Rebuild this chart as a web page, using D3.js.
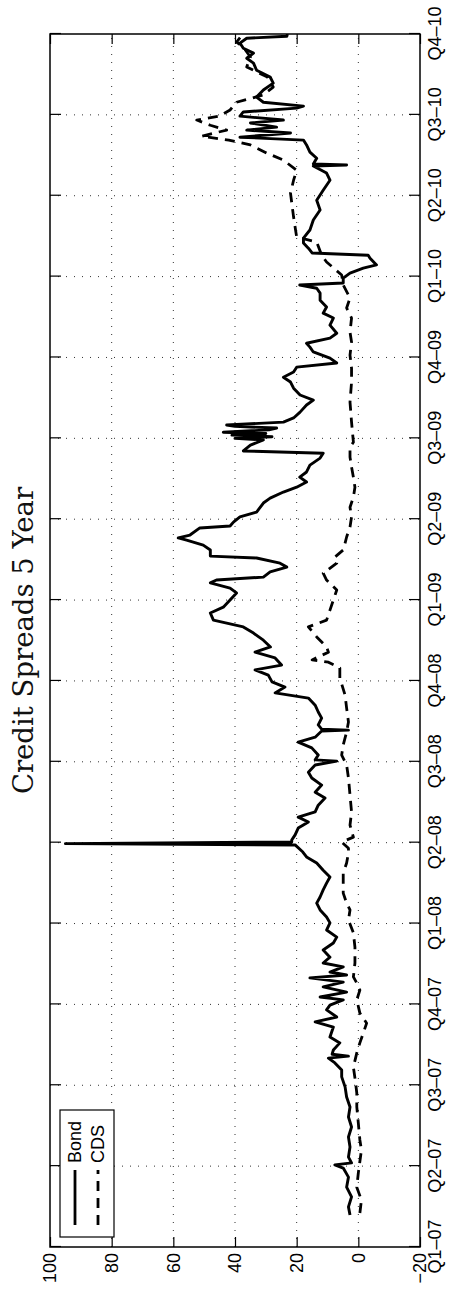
<!DOCTYPE html>
<html><head><meta charset="utf-8">
<script src="https://cdn.jsdelivr.net/npm/d3@7"></script>
<style>body{margin:0;background:#fff}svg{display:block}</style>
</head><body>
<div id="chart"></div>
<script>
// ---- data (time in decimal years) ----
const quarterTicks = [2007,2007.25,2007.5,2007.75,2008,2008.25,2008.5,2008.75,2009,2009.25,2009.5,2009.75,2010,2010.25,2010.5,2010.75];
const quarterLabels = ["Q1\u201307","Q2\u201307","Q3\u201307","Q4\u201307","Q1\u201308","Q2\u201308","Q3\u201308","Q4\u201308","Q1\u201309","Q2\u201309","Q3\u201309","Q4\u201309","Q1\u201310","Q2\u201310","Q3\u201310","Q4\u201310"];
const valueTicks = [-20,0,20,40,60,80,100];
const valueLabels = ["\u221220","0","20","40","60","80","100"];
const seriesNames = ["Bond","CDS"];

const bond = [[2007.099,2.7],[2007.124,3.2],[2007.155,2.2],[2007.185,3.8],[2007.216,3.2],[2007.244,4.9],[2007.254,7.6],[2007.260,2.2],[2007.278,3.2],[2007.309,2.7],[2007.340,3.2],[2007.371,2.2],[2007.402,3.2],[2007.433,2.7],[2007.464,3.8],[2007.495,4.3],[2007.526,5.4],[2007.547,5.4],[2007.569,7.6],[2007.584,9.7],[2007.590,3.2],[2007.596,8.5],[2007.609,8.1],[2007.631,6],[2007.649,9.2],[2007.680,8.1],[2007.696,14],[2007.711,7],[2007.733,10.3],[2007.748,9.2],[2007.764,4.9],[2007.773,12.4],[2007.788,3.8],[2007.804,11.4],[2007.819,4.9],[2007.832,15.7],[2007.841,3.8],[2007.850,9.2],[2007.866,4.9],[2007.878,11.4],[2007.896,9.2],[2007.918,11.4],[2007.940,8.1],[2007.958,7],[2007.980,10.3],[2008.002,9.2],[2008.020,10.3],[2008.042,12.4],[2008.063,13.5],[2008.082,12.4],[2008.104,11.4],[2008.125,10.3],[2008.144,9.2],[2008.165,11.4],[2008.187,13.5],[2008.206,16.8],[2008.221,18],[2008.243,20.5],[2008.247,95],[2008.252,21.6],[2008.258,21.6],[2008.274,20.5],[2008.295,19.5],[2008.314,16.2],[2008.329,19.5],[2008.345,14],[2008.366,13],[2008.388,10.8],[2008.406,14],[2008.428,11.9],[2008.450,15.1],[2008.468,16.2],[2008.490,14],[2008.502,7],[2008.506,14],[2008.521,13],[2008.543,15.1],[2008.561,19.5],[2008.576,14],[2008.595,11.9],[2008.598,3.2],[2008.601,11.9],[2008.614,13],[2008.635,11.9],[2008.654,13],[2008.675,14],[2008.697,16.2],[2008.713,27],[2008.731,23.8],[2008.747,28],[2008.768,29.2],[2008.784,33.5],[2008.799,24.9],[2008.821,27],[2008.839,33.5],[2008.855,28.5],[2008.876,30.8],[2008.898,34],[2008.917,37.3],[2008.938,47],[2008.960,48],[2008.978,43.8],[2009.000,41.6],[2009.022,39.5],[2009.037,41.6],[2009.053,48],[2009.062,46],[2009.071,30.8],[2009.087,28.6],[2009.102,23.2],[2009.114,25.4],[2009.130,33],[2009.136,48],[2009.155,48],[2009.170,50.3],[2009.185,55.7],[2009.192,58.4],[2009.201,54.6],[2009.223,51.4],[2009.229,41.6],[2009.241,40.5],[2009.257,38.4],[2009.272,33],[2009.300,30.8],[2009.315,28.6],[2009.334,24.3],[2009.349,20],[2009.365,16.8],[2009.380,19],[2009.396,16.8],[2009.417,15.7],[2009.439,12.4],[2009.454,11.4],[2009.461,37.3],[2009.479,35],[2009.495,30.8],[2009.500,40],[2009.505,28],[2009.510,41],[2009.515,30],[2009.519,43.8],[2009.526,29],[2009.532,26.5],[2009.537,40],[2009.541,42.7],[2009.550,24.3],[2009.563,21],[2009.581,18.9],[2009.603,16.8],[2009.618,14.6],[2009.634,18.9],[2009.655,21],[2009.674,22],[2009.689,24.3],[2009.705,21],[2009.720,20],[2009.733,7],[2009.748,9.2],[2009.767,14.6],[2009.782,15.7],[2009.794,16.8],[2009.810,9.2],[2009.825,7],[2009.850,9.2],[2009.872,8.1],[2009.887,11.4],[2009.906,10.3],[2009.927,12.4],[2009.949,12.4],[2009.964,13.5],[2009.974,19],[2009.980,4.9],[2009.995,4.9],[2010.011,2.7],[2010.026,-1.6],[2010.036,-5.9],[2010.057,-3.8],[2010.066,-3.2],[2010.073,15],[2010.088,16.2],[2010.104,17.8],[2010.119,17.8],[2010.144,15.7],[2010.175,14.6],[2010.206,12.4],[2010.236,13.5],[2010.267,11.4],[2010.298,9.2],[2010.320,10.3],[2010.342,14.6],[2010.345,3.8],[2010.348,14.6],[2010.366,13.5],[2010.385,15.7],[2010.407,16.8],[2010.422,17.8],[2010.431,38.4],[2010.444,22],[2010.453,36.2],[2010.462,26.5],[2010.475,35],[2010.484,24.3],[2010.496,38.4],[2010.509,37.3],[2010.521,20],[2010.527,17.8],[2010.539,30.8],[2010.555,33],[2010.577,30.8],[2010.598,27.6],[2010.617,28.6],[2010.638,33],[2010.660,34],[2010.675,36.2],[2010.691,34],[2010.706,37.3],[2010.722,38.4],[2010.737,36.2],[2010.743,23.2],[2010.750,23]];

const cds = [[2007.105,-0.5],[2007.145,-1],[2007.185,0.5],[2007.229,0],[2007.300,-1],[2007.331,-0.5],[2007.383,0],[2007.433,0.5],[2007.476,0.5],[2007.516,1],[2007.556,1.6],[2007.600,0.5],[2007.631,-0.5],[2007.692,-2.7],[2007.723,-0.5],[2007.764,0.5],[2007.794,-0.5],[2007.816,0.5],[2007.835,1.6],[2007.878,1.1],[2007.927,1.1],[2007.971,1.6],[2008.011,3.2],[2008.042,2.7],[2008.063,3.8],[2008.094,4.9],[2008.125,4.9],[2008.156,4.9],[2008.187,3.8],[2008.218,3.2],[2008.233,3.2],[2008.252,5.4],[2008.267,1.6],[2008.304,2.7],[2008.345,2.2],[2008.397,2.7],[2008.450,3.2],[2008.490,3.8],[2008.521,5.4],[2008.552,4.9],[2008.592,3.8],[2008.623,3.2],[2008.666,3.8],[2008.706,4.3],[2008.759,6],[2008.790,6],[2008.808,9.7],[2008.815,15],[2008.839,9.7],[2008.855,10.3],[2008.886,13.5],[2008.917,16.2],[2008.938,10.3],[2008.969,9.2],[2009.000,8.1],[2009.031,7],[2009.062,10.3],[2009.083,11.4],[2009.114,7],[2009.133,7.6],[2009.155,4.9],[2009.176,4.3],[2009.195,3.8],[2009.226,2.7],[2009.257,2.2],[2009.287,2.7],[2009.318,1.6],[2009.349,1.1],[2009.380,1.6],[2009.411,2.2],[2009.442,2.7],[2009.473,2.7],[2009.488,1.6],[2009.550,2.2],[2009.612,2.7],[2009.674,2.2],[2009.717,2.2],[2009.757,2.7],[2009.798,2.2],[2009.828,2.7],[2009.872,2.2],[2009.903,3.8],[2009.934,2.7],[2009.974,4.9],[2010.005,5.4],[2010.045,10.3],[2010.066,11.9],[2010.107,13.5],[2010.122,20],[2010.184,21],[2010.258,22],[2010.298,21],[2010.329,20],[2010.360,24.3],[2010.382,29.7],[2010.407,35],[2010.422,42],[2010.434,50.8],[2010.453,42.7],[2010.468,48],[2010.484,52.4],[2010.496,45],[2010.515,41.6],[2010.539,39.5],[2010.561,31],[2010.586,27.6],[2010.617,29.5],[2010.648,36.2],[2010.679,35],[2010.709,37.3],[2010.725,39.5],[2010.743,38]];

// ---- drawing (chart laid out landscape, then rotated -90deg) ----
const SW = 449, SH = 1292;      // screen size
const W = SH, H = SW;           // landscape drawing size
const m = {left:45, right:1258, top:50, bottom:420};

const svg = d3.select("#chart").append("svg").attr("width", SW).attr("height", SH);
const g = svg.append("g").attr("transform", `translate(0,${SH}) rotate(-90)`);

const x = d3.scaleLinear().domain([2007, 2010.75]).range([m.left, m.right]);
const y = d3.scaleLinear().domain([-20, 100]).range([m.bottom, m.top]);

g.append("rect").attr("x",0).attr("y",0).attr("width",W).attr("height",H).attr("fill","#fff");

// grid
const grid = g.append("g").attr("stroke","#000").attr("stroke-width",1).attr("stroke-dasharray","1,7").attr("opacity",0.8);
quarterTicks.slice(1,-1).forEach(t => grid.append("line").attr("x1",x(t)).attr("x2",x(t)).attr("y1",m.top).attr("y2",m.bottom));
valueTicks.slice(1,-1).forEach(v => grid.append("line").attr("x1",m.left).attr("x2",m.right).attr("y1",y(v)).attr("y2",y(v)));

// clip
g.append("clipPath").attr("id","plotclip").append("rect")
  .attr("x",m.left).attr("y",m.top).attr("width",m.right-m.left).attr("height",m.bottom-m.top);

const line = d3.line().x(d => x(d[0])).y(d => y(d[1]));
const plot = g.append("g").attr("clip-path","url(#plotclip)");
plot.append("path").datum(cds).attr("d",line).attr("fill","none").attr("stroke","#000")
  .attr("stroke-width",2.8).attr("stroke-dasharray","10,7").attr("stroke-linejoin","round");
plot.append("path").datum(bond).attr("d",line).attr("fill","none").attr("stroke","#000")
  .attr("stroke-width",2.9).attr("stroke-linejoin","round");

// axes
const fontSans = "'Liberation Sans', Arial, Helvetica, sans-serif";
const xAxis = d3.axisBottom(x).tickValues(quarterTicks).tickFormat((d,i)=>quarterLabels[i]).tickSize(-11).tickPadding(8);
const gx = g.append("g").attr("transform",`translate(0,${m.bottom})`).call(xAxis);
const yAxis = d3.axisLeft(y).tickValues(valueTicks).tickFormat((d,i)=>valueLabels[i]).tickSize(-10).tickPadding(6);
const gy = g.append("g").attr("transform",`translate(${m.left},0)`).call(yAxis);
const gxt = g.append("g").attr("transform",`translate(0,${m.top})`).call(d3.axisTop(x).tickValues(quarterTicks).tickFormat("").tickSize(-11));
const gyr = g.append("g").attr("transform",`translate(${m.right},0)`).call(d3.axisRight(y).tickValues(valueTicks).tickFormat("").tickSize(-10));
[gx,gy,gxt,gyr].forEach(a => {
  a.select(".domain").remove();
  a.selectAll(".tick line").attr("stroke","#000").attr("stroke-width",1.2);
  a.selectAll("text").attr("font-family",fontSans).attr("font-size",18).attr("fill","#000");
});

// frame
g.append("rect").attr("x",m.left).attr("y",m.top).attr("width",m.right-m.left).attr("height",m.bottom-m.top)
  .attr("fill","none").attr("stroke","#000").attr("stroke-width",1.5);

// title
g.append("text").attr("x",(m.left+m.right)/2).attr("y",33).attr("text-anchor","middle")
  .attr("font-family","'DejaVu Serif','Liberation Serif',serif").attr("font-size",27.5)
  .attr("font-weight","normal").attr("fill","#111").text("Credit Spreads 5 Year");

// legend
const lg = g.append("g");
lg.append("rect").attr("x",55).attr("y",60).attr("width",127).attr("height",54)
  .attr("fill","#fff").attr("stroke","#000").attr("stroke-width",1.2);
seriesNames.forEach((name,i) => {
  const cy = 75 + i*23;
  lg.append("line").attr("x1",67).attr("x2",122).attr("y1",cy).attr("y2",cy)
    .attr("stroke","#000").attr("stroke-width",2.8).attr("stroke-dasharray", i===1 ? "10,7" : null);
  lg.append("text").attr("x",129).attr("y",cy).attr("dy","0.35em")
    .attr("font-family",fontSans).attr("font-size",18).attr("fill","#000").text(name);
});
</script>
</body></html>
